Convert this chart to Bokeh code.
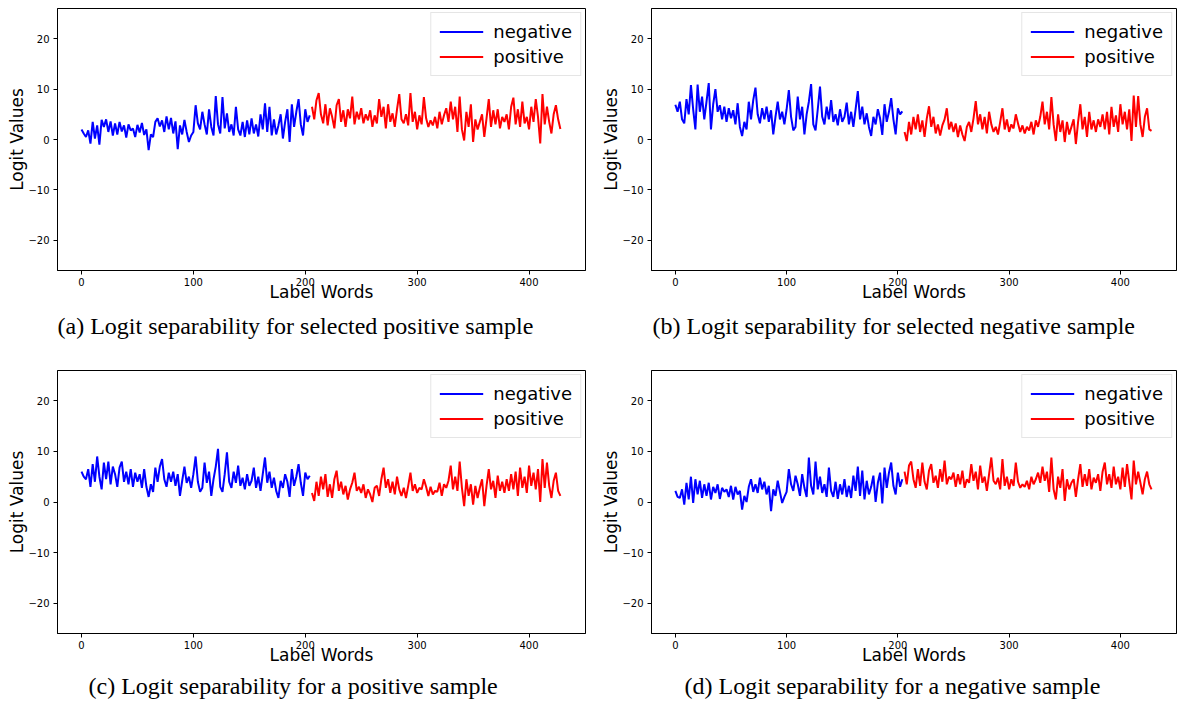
from bokeh.plotting import figure
from bokeh.layouts import column, row
from bokeh.models import Title, Legend, LegendItem, Range1d, FixedTicker
from bokeh.embed import file_html
from bokeh.resources import INLINE

# ---------------- data ----------------
a_negative = [2.0, 1.2, 0.5, 1.8, -0.8, 3.5, 0.2, 2.8, -1.0, 3.9,
              2.5, 4.0, 1.5, 3.6, 0.8, 3.2, 1.0, 3.5, 1.6, 2.8, 0.4, 3.0, 1.8, 2.2, 0.5, 2.9, 1.4, 3.3, 0.9, 2.0,
              -2.1, 1.0, 0.5, 3.5, 4.2, 2.6, 3.8, 1.5, 4.6, 2.0,
              4.3, 1.2, 3.6, -1.9, 2.8, 1.0, 3.9, 1.5, -0.5, 0.8,
              1.5, 6.8, 3.2, 2.0, 5.5, 3.0, 1.0, 6.0, 2.5, 0.8, 8.6, 3.0, 1.2, 8.4, 2.2, 5.2, 1.5, 3.0, 0.8, 6.5, 2.0,
              0.8, 3.5, 0.5, 3.8, 1.0, 4.2, 1.2, 3.0, 0.6, 5.0, 2.0, 7.2, 1.5, 6.5, 0.8, 4.0, 1.0, 2.8, 5.0, 0.2,
              3.5, 6.0, -0.5, 7.0, 2.5, 5.5, 8.0, 3.0, 0.8, 6.0, 3.5, 4.8]
a_positive = [6.5, 4.0, 7.8, 9.2, 5.0, 3.2, 7.0, 2.8, 6.2, 4.5, 2.2, 6.8, 8.0, 3.5, 5.8, 2.5, 6.0, 4.2, 8.5, 3.0,
              5.5, 4.0, 6.2, 3.2, 5.0, 3.8, 5.8, 2.5, 4.8, 3.2, 8.0, 4.5, 6.5, 2.2, 7.0, 3.5, 5.2, 2.5, 6.0, 9.0,
              4.0, 3.2, 5.0, 2.8, 9.2, 3.5, 5.5, 2.0, 4.8, 3.0, 8.4, 4.2, 2.5, 3.8, 2.8, 4.5, 2.2, 5.5, 3.0, 4.8,
              6.2, 3.5, 7.5, 4.0, 6.5, 1.5, 8.5, 2.0, -0.2, 5.5, 2.5, 7.0, -0.5, 4.0, 2.0, 3.5, 5.0, 0.5, 4.2, 8.0,
              2.5, 5.8, 3.0, 6.0, 2.2, 4.5, 3.5, 5.0, 2.0, 6.5, 8.3, 3.0, 6.0, 2.5, 7.5, 3.2, 4.5, 2.0, 6.5, 3.5,
              8.0, 4.5, -0.8, 9.0, 3.0, 6.5, 3.5, 1.2, 5.0, 6.8, 4.0, 2.1]

b_negative = [6.9, 5.5, 7.5, 4.0, 3.2, 8.0, 5.0, 10.8, 6.0, 2.0, 10.9, 5.5, 8.5, 4.0, 7.5, 11.2, 2.0, 7.0, 10.0, 5.5,
              6.8, 4.0, 6.5, 3.5, 6.2, 4.2, 5.8, 3.0, 7.2, 2.5, 0.7, 3.5, 2.0, 7.5, 4.0, 7.8, 10.3, 5.0, 3.2, 6.2,
              4.0, 6.5, 3.5, 5.8, 1.0, 4.5, 7.5, 4.0, 5.5, 3.0, 6.0, 9.8, 4.5, 1.8, 2.5, 8.5, 4.0, 6.5, 1.0, 5.0,
              7.5, 11.0, 3.0, 1.8, 6.0, 10.5, 4.5, 3.0, 6.5, 4.0, 7.8, 3.5, 5.0, 2.8, 6.0, 3.5, 4.5, 7.3, 3.0, 5.5,
              2.5, 6.0, 9.6, 4.0, 6.5, 3.0, 5.2, 2.5, 0.7, 4.5, 3.0, 6.0, 4.2, 0.9, 7.0, 3.5, 5.5, 8.2, 4.0, 1.0,
              6.2, 5.0, 5.6]
b_positive = [1.5, -0.3, 3.5, 1.0, 4.5, 2.0, 5.0, 1.5, 3.8, 0.5, 4.2, 6.6, 2.5, 4.5, 1.2, 3.0, 0.8, 2.8, 4.0, 6.2,
              2.0, 3.5, 1.5, 3.2, 0.5, 2.8, 1.0, -0.3, 2.5, 3.5, 1.5, 4.2, 7.6, 3.0, 5.0, 2.0, 4.5, 1.2, 5.5, 3.0,
              1.5, 2.5, 1.0, 3.5, 6.2, 2.0, 4.0, 1.5, 3.0, 2.2, 5.0, 3.2, 1.5, 2.8, 1.2, 2.5, 1.8, 3.5, 1.0, 3.8,
              2.5, 4.5, 7.5, 3.0, 5.5, 2.0, 8.4, 3.0, -0.3, 5.0, 1.5, 3.8, -0.5, 3.5, 1.0, 2.5, 4.0, -0.9, 3.5, 7.0,
              2.0, 4.5, 0.5, 5.5, 2.0, 3.8, 1.5, 4.0, 2.5, 5.0, 2.0, 5.5, 1.0, 6.5, 2.5, 4.8, 1.5, 7.0, 3.0, 5.5,
              2.0, 6.0, -0.3, 8.7, 2.5, 8.6, 3.0, 0.5, 4.5, 6.2, 2.0, 1.7]

c_negative = [6.0, 5.0, 4.5, 6.5, 3.0, 7.5, 4.0, 9.0, 5.0, 2.5, 7.8, 4.5, 8.0, 3.5, 7.0, 5.5, 3.0, 6.8, 8.0, 4.0,
              6.0, 3.5, 6.5, 3.0, 5.8, 4.0, 5.5, 2.8, 6.5, 3.0, 1.0, 3.5, 2.0, 6.8, 4.0, 7.0, 8.5, 4.5, 3.0, 5.8,
              4.0, 6.0, 3.2, 5.5, 1.2, 4.2, 7.0, 3.8, 5.0, 2.8, 5.5, 9.0, 4.0, 2.0, 2.8, 7.8, 3.8, 6.0, 1.2, 4.5,
              7.0, 10.5, 3.0, 2.0, 5.5, 9.8, 4.0, 2.8, 6.0, 3.8, 7.2, 3.2, 4.8, 2.5, 5.5, 3.2, 4.2, 6.8, 2.8, 5.0,
              2.2, 5.5, 8.8, 3.8, 6.0, 2.8, 4.8, 2.2, 0.8, 4.2, 2.8, 5.5, 4.0, 1.0, 6.5, 3.2, 5.0, 7.5, 3.8, 1.2,
              5.8, 4.5, 5.2]
c_positive = [1.8, 0.2, 4.0, 1.2, 5.0, 2.5, 5.5, 1.0, 3.5, 0.8, 4.5, 6.2, 2.2, 4.0, 1.5, 3.2, 0.5, 2.5, 3.8, 5.8,
              2.2, 3.0, 1.8, 3.5, 0.8, 2.5, 1.5, 0.0, 2.8, 3.2, 1.2, 4.5, 6.8, 2.8, 4.5, 1.8, 4.0, 1.5, 5.0, 2.5,
              1.2, 2.8, 0.8, 3.2, 5.8, 2.2, 3.5, 1.8, 2.8, 2.5, 4.5, 3.0, 1.2, 3.0, 1.5, 2.2, 2.0, 3.8, 1.2, 3.5,
              2.8, 4.2, 7.2, 2.5, 5.0, 2.2, 8.0, 2.8, -0.8, 4.5, 1.2, 3.5, -0.5, 3.2, 0.8, 2.8, 4.5, -0.8, 3.2, 6.5,
              2.5, 4.2, 0.8, 5.2, 2.2, 4.0, 1.8, 4.5, 2.2, 5.5, 2.5, 6.0, 1.2, 6.8, 2.8, 5.0, 1.8, 7.2, 3.2, 5.8,
              2.5, 6.5, 0.0, 8.5, 2.8, 7.8, 3.2, 0.8, 4.2, 5.8, 2.2, 1.2]

d_negative = [2.2, 1.0, 0.8, 2.5, -0.5, 3.8, 0.5, 5.0, -0.2, 4.5,
              1.5, 4.2, 0.8, 3.5, 1.2, 3.8, 0.5, 3.0, 1.8, 3.5, 0.6, 2.8, 2.0, 2.5, 1.0, 3.2, 0.5, 3.0, 1.5, 2.2,
              -1.5, 1.2, 0.0, 3.0, 4.5, 2.0, 3.5, 1.8, 4.8, 2.5,
              4.0, 1.5, 3.2, -1.8, 2.5, 1.2, 4.2, 2.0, -0.2, 1.0,
              2.0, 6.5, 3.5, 2.2, 5.2, 3.5, 1.2, 5.5, 2.8, 1.0, 8.8, 3.2, 1.5, 8.0, 2.5, 5.0, 1.8, 3.5, 1.0, 6.8, 2.2,
              1.0, 4.0, 0.6, 3.5, 1.5, 4.5, 1.0, 3.2, 0.8, 5.2, 2.2, 7.0, 1.2, 6.2, 0.5, 4.2, 1.5, 3.0, 5.2, 0.0,
              3.8, 5.8, -0.3, 6.8, 2.8, 5.8, 7.8, 3.2, 1.5, 5.8, 3.0, 4.5]
d_positive = [6.0, 3.5, 7.2, 8.0, 4.5, 2.8, 6.5, 3.2, 7.8, 4.0, 2.5, 6.2, 7.5, 3.8, 5.2, 2.8, 6.5, 4.0, 8.2, 3.5,
              5.0, 4.5, 5.8, 3.0, 5.5, 3.5, 6.2, 2.8, 4.5, 3.8, 7.5, 4.2, 6.0, 2.5, 7.2, 3.8, 5.0, 2.2, 5.5, 8.8,
              4.2, 3.5, 4.8, 2.5, 8.5, 3.2, 5.0, 2.5, 4.5, 3.2, 7.8, 4.0, 2.8, 3.5, 3.0, 4.2, 2.5, 5.0, 3.5, 4.5,
              5.8, 3.8, 7.0, 4.2, 6.0, 2.0, 8.8, 2.5, 0.5, 5.0, 2.8, 6.5, 0.2, 4.5, 2.5, 3.8, 4.5, 1.0, 4.5, 7.5,
              3.0, 5.5, 3.2, 6.5, 2.5, 4.8, 3.8, 5.5, 2.2, 6.0, 7.8, 3.5, 5.5, 2.8, 7.0, 3.5, 5.0, 2.5, 6.8, 3.0,
              7.5, 4.0, 0.5, 8.2, 3.5, 6.0, 3.8, 1.5, 4.5, 6.0, 3.5, 2.5]

x_ticks = [0, 100, 200, 300, 400]
y_ticks = [-20, -10, 0, 10, 20]
series_names = ["negative", "positive"]
captions = ["(a)  Logit separability for selected positive sample",
            "(b)  Logit separability for selected negative sample",
            "(c)  Logit separability for a positive sample",
            "(d)  Logit separability for a negative sample"]

FONT = "DejaVu Sans"


def panel(neg, pos, caption, offset, width, height, bl, br, bt, bb, cap_standoff):
    p = figure(width=width, height=height, output_backend="svg", toolbar_location=None,
               title=None, x_range=Range1d(-21.45, 450.45), y_range=Range1d(-26, 26),
               min_border_left=bl, min_border_right=br, min_border_top=bt, min_border_bottom=bb,
               background_fill_color="white", border_fill_color="white")
    xn = list(range(0, 2 * len(neg), 2))
    xp = list(range(206, 206 + 2 * len(pos), 2))
    r1 = p.line(xn, neg, line_color="#0000ff", line_width=2)
    r2 = p.line(xp, pos, line_color="#ff0000", line_width=2)

    p.xgrid.visible = False
    p.ygrid.visible = False
    p.outline_line_color = "black"
    p.outline_line_alpha = 1
    p.outline_line_width = 1

    p.xaxis.ticker = FixedTicker(ticks=x_ticks)
    p.yaxis.ticker = FixedTicker(ticks=y_ticks)
    p.yaxis.major_label_overrides = {-20: "\u221220", -10: "\u221210"}
    for ax in (p.xaxis, p.yaxis):
        ax.axis_line_color = "black"
        ax.major_tick_line_color = "black"
        ax.major_tick_out = 4
        ax.major_tick_in = 0
        ax.minor_tick_line_color = None
        ax.major_label_text_font = FONT
        ax.major_label_text_font_size = "10px"
        ax.major_label_text_color = "black"
        ax.axis_label_text_font = FONT
        ax.axis_label_text_font_size = "17px"
        ax.axis_label_text_font_style = "normal"
        ax.axis_label_text_color = "black"
    p.xaxis.major_label_standoff = 3
    p.yaxis.major_label_standoff = 4
    p.xaxis.axis_label = "Label Words"
    p.yaxis.axis_label = "Logit Values"
    p.xaxis.axis_label_standoff = -7
    p.yaxis.axis_label_standoff = -2

    legend = Legend(items=[LegendItem(label=series_names[0], renderers=[r1]),
                           LegendItem(label=series_names[1], renderers=[r2])],
                    location="top_right", label_text_font=FONT, label_text_font_size="18px",
                    label_text_color="black",
                    glyph_width=44, glyph_height=21, label_height=21, spacing=4, padding=8,
                    label_standoff=10, margin=4, border_line_color="#cccccc",
                    border_line_width=1, background_fill_alpha=0.8)
    p.add_layout(legend)

    t = Title(text=caption, align="left", offset=offset, text_font="Liberation Serif",
              text_font_size="24px", text_font_style="normal", text_color="black",
              standoff=cap_standoff)
    p.add_layout(t, "below")
    return p


pa = panel(a_negative, a_positive, captions[0], 0, 590, 360, 57, 5, 8, 90, 12)
pb = panel(b_negative, b_positive, captions[1], 1, 589, 360, 61, 3, 8, 90, 12)
pc = panel(c_negative, c_positive, captions[2], 31, 590, 342, 57, 5, 10, 69, 6)
pd = panel(d_negative, d_positive, captions[3], 33, 589, 342, 61, 3, 10, 69, 6)

layout = column(row(pa, pb), row(pc, pd))

with open("out.html", "w") as f:
    f.write(file_html(layout, INLINE))
